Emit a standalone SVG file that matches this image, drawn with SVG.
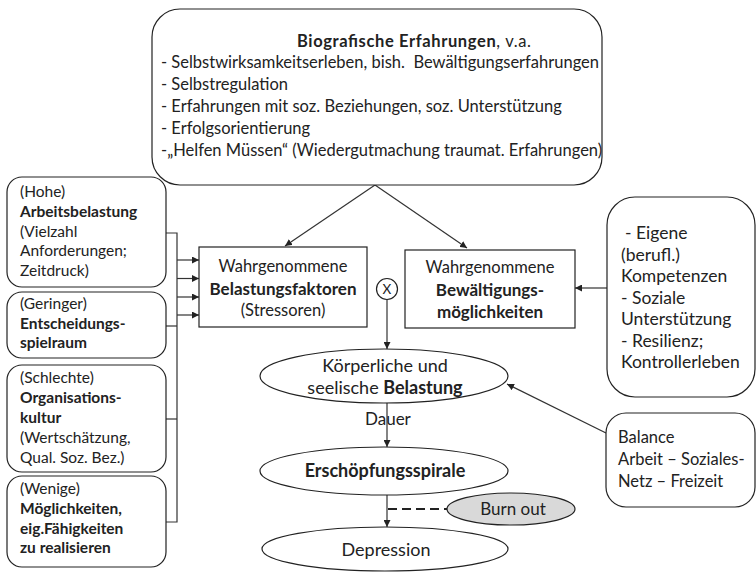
<svg xmlns="http://www.w3.org/2000/svg" width="756" height="573" viewBox="0 0 756 573">
<defs>
<marker id="ah" viewBox="0 0 10 10" refX="10" refY="5" markerWidth="7" markerHeight="7" markerUnits="userSpaceOnUse" orient="auto">
<path d="M0,0 L10,5 L0,10 z" fill="#222"/>
</marker>
<style>
.box{fill:#fff;stroke:#222;stroke-width:1.2}
.con{fill:none;stroke:#333;stroke-width:1.2}
text{font-family:Lato,"Liberation Sans",sans-serif;font-size:16.5px;fill:#222}
.s{font-size:15.5px}
.r{font-size:17.5px}
.e{font-size:18px}
.b{font-weight:bold}
.m{text-anchor:middle}
</style>
</defs>
<rect width="756" height="573" fill="#fff"/>

<g id="connectors">
<line class="con" x1="375" y1="185" x2="285" y2="246" marker-end="url(#ah)"/>
<line class="con" x1="375" y1="185" x2="467" y2="248" marker-end="url(#ah)"/>
<polyline class="con" points="166,233 177,233 177,522 166,522"/>
<line class="con" x1="166" y1="326" x2="177" y2="326"/>
<line class="con" x1="166" y1="419" x2="177" y2="419"/>
<line class="con" x1="177" y1="260" x2="199" y2="260" marker-end="url(#ah)"/>
<line class="con" x1="177" y1="278.5" x2="199" y2="278.5" marker-end="url(#ah)"/>
<line class="con" x1="177" y1="297" x2="199" y2="297" marker-end="url(#ah)"/>
<line class="con" x1="177" y1="315" x2="199" y2="315" marker-end="url(#ah)"/>
<line class="con" x1="607" y1="288" x2="575" y2="288" marker-end="url(#ah)"/>
<line class="con" x1="387" y1="299" x2="387" y2="349" marker-end="url(#ah)"/>
<text x="365" y="425" style="font-size:17px">Dauer</text>
<line class="con" x1="387" y1="403" x2="387" y2="447" marker-end="url(#ah)"/>
<line class="con" x1="387" y1="495" x2="387" y2="527" marker-end="url(#ah)"/>
<line x1="388" y1="509" x2="447" y2="509" stroke="#222" stroke-dasharray="9,5" stroke-width="2.2"/>
<line class="con" x1="606" y1="433" x2="507" y2="384" marker-end="url(#ah)"/>
</g>

<g id="biografie">
<rect class="box" x="152" y="9" width="450" height="176" rx="28"/>
<text x="297" y="47" textLength="234" lengthAdjust="spacing"><tspan class="b">Biografische Erfahrungen</tspan>, v.a.</text>
<text x="161" y="68" xml:space="preserve">- Selbstwirksamkeitserleben, bish.  Bewältigungserfahrungen</text>
<text x="161" y="90">- Selbstregulation</text>
<text x="161" y="112">- Erfahrungen mit soz. Beziehungen, soz. Unterstützung</text>
<text x="161" y="134">- Erfolgsorientierung</text>
<text x="161" y="156">-„Helfen Müssen“ (Wiedergutmachung traumat. Erfahrungen)</text>
</g>

<g id="arbeitsbelastung">
<rect class="box" x="7" y="177" width="159" height="110" rx="15"/>
<text class="s" x="20" y="197">(Hohe)</text>
<text class="s b" x="20" y="217">Arbeitsbelastung</text>
<text class="s" x="20" y="236.5">(Vielzahl</text>
<text class="s" x="20" y="256">Anforderungen;</text>
<text class="s" x="20" y="275.5">Zeitdruck)</text>
</g>

<g id="entscheidung">
<rect class="box" x="7" y="292" width="159" height="66" rx="15"/>
<text class="s" x="20" y="309">(Geringer)</text>
<text class="s b" x="20" y="329">Entscheidungs-</text>
<text class="s b" x="20" y="348">spielraum</text>
</g>

<g id="organisation">
<rect class="box" x="7" y="365" width="159" height="107" rx="15"/>
<text class="s" x="20" y="383">(Schlechte)</text>
<text class="s b" x="20" y="403">Organisations-</text>
<text class="s b" x="20" y="423">kultur</text>
<text class="s" x="20" y="443">(Wertschätzung,</text>
<text class="s" x="20" y="463">Qual. Soz. Bez.)</text>
</g>

<g id="moeglichkeiten">
<rect class="box" x="7" y="476" width="159" height="91" rx="15"/>
<text class="s" x="20" y="494">(Wenige)</text>
<text class="s b" x="20" y="514">Möglichkeiten,</text>
<text class="s b" x="20" y="534">eig.Fähigkeiten</text>
<text class="s b" x="20" y="553">zu realisieren</text>
</g>

<g id="belastungsfaktoren">
<rect class="box" x="199" y="247" width="168" height="80"/>
<text class="m" x="283" y="272">Wahrgenommene</text>
<text class="m b" x="283" y="295" style="font-size:17px">Belastungsfaktoren</text>
<text class="m" x="283" y="316">(Stressoren)</text>
</g>

<g id="multiplikation">
<circle class="box" cx="387" cy="289" r="10.5"/>
<text class="m" x="387" y="294" style="font-size:13.5px">X</text>
</g>

<g id="bewaeltigung">
<rect class="box" x="405" y="250" width="170" height="78"/>
<text class="m" x="490" y="273">Wahrgenommene</text>
<text class="m b" x="490" y="296" style="font-size:17px">Bewältigungs-</text>
<text class="m b" x="490" y="318" style="font-size:17px">möglichkeiten</text>
</g>

<g id="ressourcen">
<rect class="box" x="607" y="197" width="148" height="200" rx="28"/>
<text class="r" x="625" y="239">- Eigene</text>
<text class="r" x="621" y="260.5">(berufl.)</text>
<text class="r" x="621" y="282">Kompetenzen</text>
<text class="r" x="621" y="303.5">- Soziale</text>
<text class="r" x="621" y="325">Unterstützung</text>
<text class="r" x="621" y="346.5">- Resilienz;</text>
<text class="r" x="621" y="368">Kontrollerleben</text>
</g>

<g id="belastung">
<ellipse class="box" cx="384" cy="376" rx="124" ry="27"/>
<text class="m e" x="385" y="372">Körperliche und</text>
<text class="m e" x="385" y="394">seelische <tspan class="b">Belastung</tspan></text>
</g>

<g id="balance">
<rect class="box" x="606" y="413" width="149" height="94" rx="20"/>
<text x="618" y="443">Balance</text>
<text x="618" y="465">Arbeit – Soziales-</text>
<text x="618" y="487">Netz – Freizeit</text>
</g>

<g id="erschoepfung">
<ellipse class="box" cx="384" cy="471" rx="124" ry="24"/>
<text class="m b e" x="385" y="477">Erschöpfungsspirale</text>
</g>

<g id="burnout">
<ellipse cx="511" cy="509" rx="64" ry="16" fill="#d9d9d9" stroke="#222" stroke-width="1.2"/>
<text class="m" x="513" y="515" style="font-size:17px">Burn out</text>
</g>

<g id="depression">
<ellipse class="box" cx="385" cy="549" rx="123" ry="22"/>
<text class="m e" x="386" y="556">Depression</text>
</g>
</svg>
